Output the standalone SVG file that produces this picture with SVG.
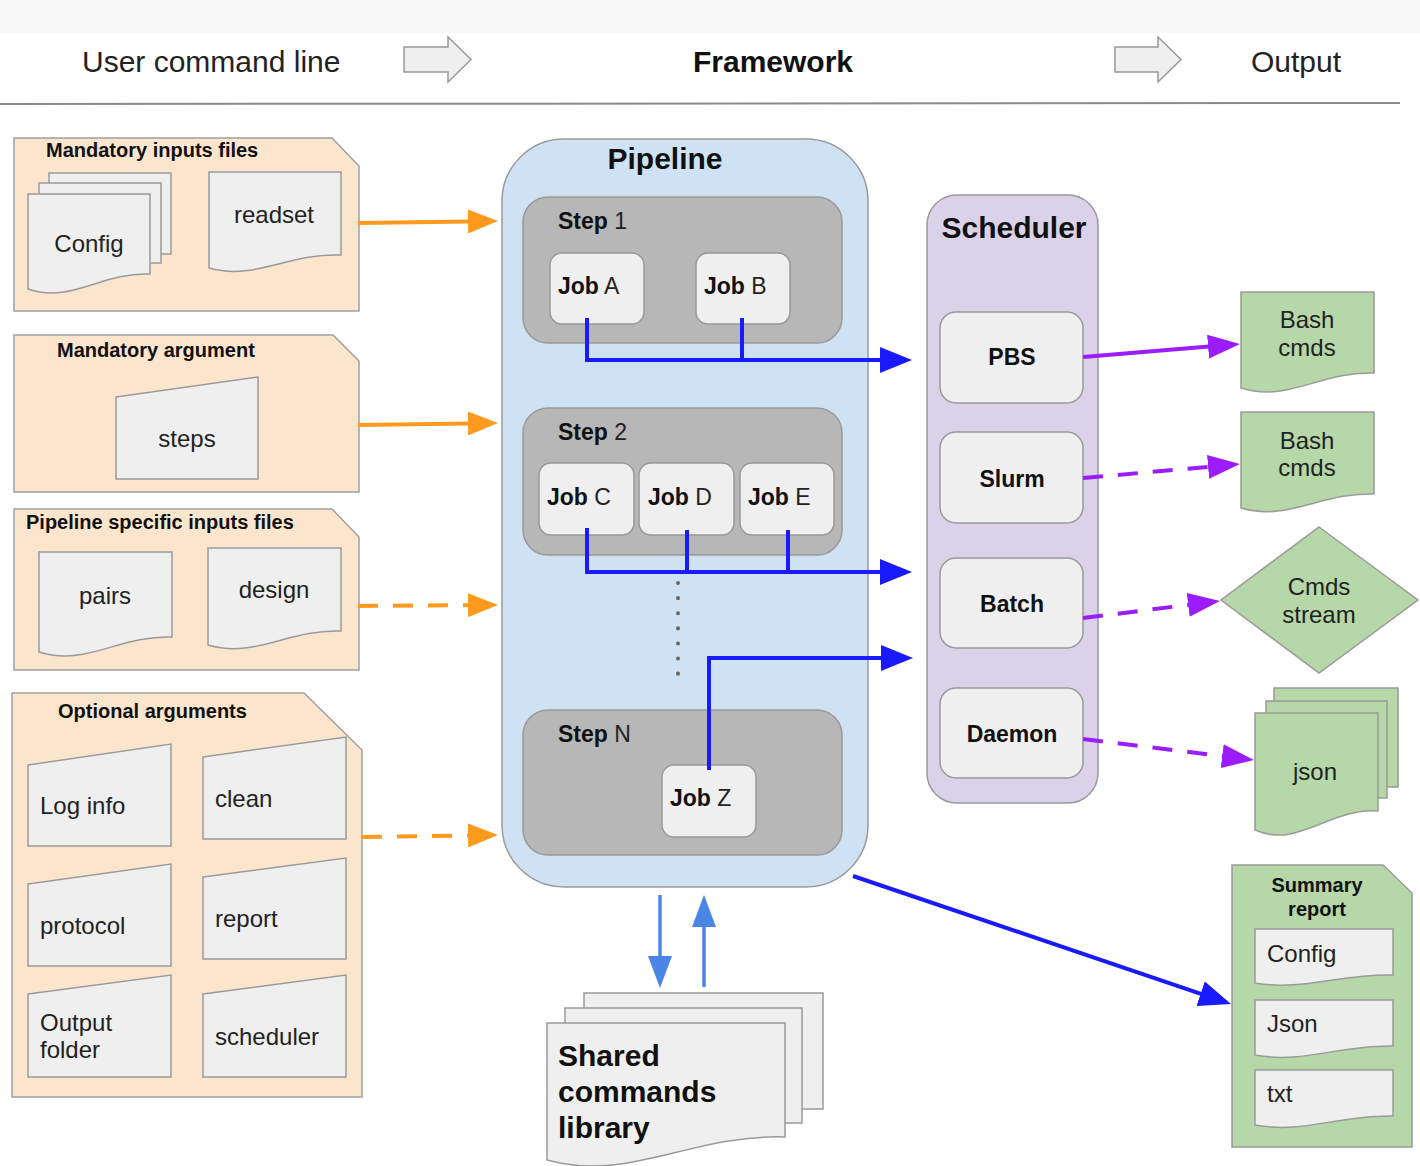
<svg xmlns="http://www.w3.org/2000/svg" width="1420" height="1166" viewBox="0 0 1420 1166">
<defs>
<style>
text{font-family:"Liberation Sans",Arial,sans-serif;fill:#222}
.b{font-weight:bold;fill:#111}
.hd{font-size:30px}
.pt{font-size:20px;font-weight:bold;fill:#111}
.dt{font-size:24px}
.jt{font-size:23px}
.peach{fill:#fce5cd;stroke:#a0a0a0;stroke-width:1.5}
.doc{fill:#efefef;stroke:#9a9a9a;stroke-width:1.5}
.green{fill:#b6d7a8;stroke:#9a9a9a;stroke-width:1.5}
.step{fill:#b7b7b7;stroke:#999;stroke-width:1.5}
.job{fill:#efefef;stroke:#999;stroke-width:1.5}
.blue{fill:none;stroke:#1a1aff;stroke-width:4}
.orange{fill:none;stroke:#ff9a1f;stroke-width:4}
.purple{fill:none;stroke:#9b1cff;stroke-width:4}
.lblue{fill:none;stroke:#4a86e8;stroke-width:3.5}
.dash{stroke-dasharray:20 15}
</style>
<marker id="mb" markerUnits="userSpaceOnUse" markerWidth="32" markerHeight="26" viewBox="0 0 32 26" refX="22" refY="13" orient="auto"><path d="M0,0 L32,13 L0,26 z" fill="#1a1aff"/></marker>
<marker id="mo" markerUnits="userSpaceOnUse" markerWidth="30" markerHeight="24" viewBox="0 0 30 24" refX="20" refY="12" orient="auto"><path d="M0,0 L30,12 L0,24 z" fill="#ff9a1f"/></marker>
<marker id="mp" markerUnits="userSpaceOnUse" markerWidth="32" markerHeight="24" viewBox="0 0 32 24" refX="22" refY="12" orient="auto"><path d="M0,0 L32,12 L0,24 z" fill="#9b1cff"/></marker>
<marker id="ml" markerUnits="userSpaceOnUse" markerWidth="32" markerHeight="24" viewBox="0 0 32 24" refX="22" refY="12" orient="auto"><path d="M0,0 L32,12 L0,24 z" fill="#4a86e8"/></marker>
</defs>

<rect x="0" y="0" width="1420" height="1166" fill="#ffffff"/>
<rect x="0" y="0" width="1420" height="33" fill="#f8f8f8"/>

<g id="header">
<text x="82" y="72" class="hd">User command line</text>
<path d="M404,47 H448 V37 L471,59.5 L448,82 V72 H404 Z" fill="#efefef" stroke="#999" stroke-width="1.5"/>
<text x="773" y="72" class="hd b" text-anchor="middle">Framework</text>
<path d="M1115,47 H1158 V37 L1181,59.5 L1158,82 V72 H1115 Z" fill="#efefef" stroke="#999" stroke-width="1.5"/>
<text x="1251" y="72" class="hd">Output</text>
<line x1="0" y1="104" x2="1400" y2="103" stroke="#8a8a8a" stroke-width="2"/>
</g>

<g id="mandatory-inputs">
<path class="peach" d="M14,138 H332 L359,166 V311 H14 Z"/>
<text x="46" y="157" class="pt">Mandatory inputs files</text>
<rect class="doc" x="49" y="173" width="122" height="81"/>
<rect class="doc" x="39" y="183" width="122" height="80"/>
<path class="doc" d="M28,194 H150 V274 C101,272 71,304 28,289 Z"/>
<text x="89" y="252" class="dt" text-anchor="middle">Config</text>
<path class="doc" d="M209,172 H341 V255 C288,253 255,281 209,268 Z"/>
<text x="274" y="223" class="dt" text-anchor="middle">readset</text>
</g>

<g id="mandatory-argument">
<path class="peach" d="M14,335 H333 L359,361 V492 H14 Z"/>
<text x="57" y="357" class="pt">Mandatory argument</text>
<path class="doc" d="M116,397 L258,377 V479 H116 Z"/>
<text x="187" y="447" class="dt" text-anchor="middle">steps</text>
</g>

<g id="pipeline-inputs">
<path class="peach" d="M14,509 H332 L359,537 V670 H14 Z"/>
<text x="26" y="529" class="pt">Pipeline specific inputs files</text>
<path class="doc" d="M39,552 H172 V637 C119,635 86,667 39,652 Z"/>
<text x="105" y="604" class="dt" text-anchor="middle">pairs</text>
<path class="doc" d="M208,548 H341 V631 C288,629 255,659 208,645 Z"/>
<text x="274" y="598" class="dt" text-anchor="middle">design</text>
</g>

<g id="optional-arguments">
<path class="peach" d="M12,693 H304 L362,750 V1097 H12 Z"/>
<text x="58" y="718" class="pt">Optional arguments</text>
<path class="doc" d="M28,765 L171,744 V846 H28 Z"/>
<text x="40" y="814" class="dt">Log info</text>
<path class="doc" d="M203,757 L346,737 V839 H203 Z"/>
<text x="215" y="807" class="dt">clean</text>
<path class="doc" d="M28,884 L171,864 V966 H28 Z"/>
<text x="40" y="934" class="dt">protocol</text>
<path class="doc" d="M203,877 L346,858 V959 H203 Z"/>
<text x="215" y="927" class="dt">report</text>
<path class="doc" d="M28,994 L171,975 V1077 H28 Z"/>
<text x="40" y="1031" class="dt">Output</text>
<text x="40" y="1058" class="dt">folder</text>
<path class="doc" d="M203,994 L346,975 V1077 H203 Z"/>
<text x="215" y="1045" class="dt">scheduler</text>
</g>

<g id="pipeline">
<rect x="502" y="139" width="366" height="748" rx="62" fill="#cfe2f3" stroke="#999" stroke-width="1.5"/>
<text x="665" y="169" class="hd b" text-anchor="middle">Pipeline</text>
<g id="step1">
<rect class="step" x="523" y="197" width="319" height="146" rx="25"/>
<text x="558" y="229" class="jt"><tspan class="b">Step</tspan> 1</text>
</g>
<g id="jobA"><rect class="job" x="550" y="253" width="94" height="71" rx="12"/><text x="558" y="294" class="jt"><tspan class="b">Job</tspan> A</text></g>
<g id="jobB"><rect class="job" x="696" y="253" width="94" height="71" rx="12"/><text x="704" y="294" class="jt"><tspan class="b">Job</tspan> B</text></g>
<g id="step2">
<rect class="step" x="523" y="408" width="319" height="147" rx="25"/>
<text x="558" y="440" class="jt"><tspan class="b">Step</tspan> 2</text>
</g>
<g id="jobC"><rect class="job" x="539" y="463" width="95" height="72" rx="12"/><text x="547" y="505" class="jt"><tspan class="b">Job</tspan> C</text></g>
<g id="jobD"><rect class="job" x="639" y="463" width="95" height="72" rx="12"/><text x="648" y="505" class="jt"><tspan class="b">Job</tspan> D</text></g>
<g id="jobE"><rect class="job" x="740" y="463" width="94" height="72" rx="12"/><text x="748" y="505" class="jt"><tspan class="b">Job</tspan> E</text></g>
<line x1="678" y1="583" x2="678" y2="674" stroke="#666" stroke-width="4" stroke-linecap="round" stroke-dasharray="0.1 15"/>
<g id="stepN">
<rect class="step" x="523" y="710" width="319" height="145" rx="25"/>
<text x="558" y="742" class="jt"><tspan class="b">Step</tspan> N</text>
</g>
<g id="jobZ"><rect class="job" x="662" y="765" width="94" height="72" rx="12"/><text x="670" y="806" class="jt"><tspan class="b">Job</tspan> Z</text></g>
</g>

<g id="scheduler">
<rect x="927" y="195" width="171" height="608" rx="30" fill="#d9d2e9" stroke="#999" stroke-width="1.5"/>
<text x="1014" y="238" class="hd b" text-anchor="middle">Scheduler</text>
</g>
<g id="pbs"><rect class="job" x="940" y="312" width="143" height="91" rx="16"/><text x="1012" y="365" class="jt b" text-anchor="middle">PBS</text></g>
<g id="slurm"><rect class="job" x="940" y="432" width="143" height="91" rx="16"/><text x="1012" y="487" class="jt b" text-anchor="middle">Slurm</text></g>
<g id="batch"><rect class="job" x="940" y="558" width="143" height="90" rx="16"/><text x="1012" y="612" class="jt b" text-anchor="middle">Batch</text></g>
<g id="daemon"><rect class="job" x="940" y="688" width="143" height="90" rx="16"/><text x="1012" y="742" class="jt b" text-anchor="middle">Daemon</text></g>

<g id="bash1">
<path class="green" d="M1241,292 H1374 V373 C1321,371 1288,403 1241,388 Z"/>
<text x="1307" y="328" class="dt" text-anchor="middle">Bash</text>
<text x="1307" y="356" class="dt" text-anchor="middle">cmds</text>
</g>
<g id="bash2">
<path class="green" d="M1241,412 H1374 V494 C1321,492 1288,522 1241,508 Z"/>
<text x="1307" y="449" class="dt" text-anchor="middle">Bash</text>
<text x="1307" y="476" class="dt" text-anchor="middle">cmds</text>
</g>
<g id="cmds-stream">
<path class="green" d="M1319,527 L1418,600 L1319,673 L1221,600 Z"/>
<text x="1319" y="595" class="dt" text-anchor="middle">Cmds</text>
<text x="1319" y="623" class="dt" text-anchor="middle">stream</text>
</g>
<g id="json">
<rect class="green" x="1274" y="688" width="124" height="99"/>
<rect class="green" x="1266" y="701" width="121" height="97"/>
<path class="green" d="M1255,713 H1378 V811 C1329,808 1298,849 1255,830 Z"/>
<text x="1315" y="780" class="dt" text-anchor="middle">json</text>
</g>
<g id="summary-report">
<path class="green" d="M1232,865 H1383 L1412,893 V1147 H1232 Z"/>
<text x="1317" y="892" class="pt" text-anchor="middle">Summary</text>
<text x="1317" y="916" class="pt" text-anchor="middle">report</text>
<path class="doc" d="M1255,929 H1393 V975 C1338,974 1303,991 1255,983 Z"/>
<text x="1267" y="962" class="dt">Config</text>
<path class="doc" d="M1255,1000 H1393 V1046 C1338,1045 1303,1064 1255,1055 Z"/>
<text x="1267" y="1032" class="dt">Json</text>
<path class="doc" d="M1255,1070 H1393 V1116 C1338,1115 1303,1134 1255,1125 Z"/>
<text x="1267" y="1102" class="dt">txt</text>
</g>

<g id="shared-library">
<rect class="doc" x="584" y="993" width="239" height="116"/>
<rect class="doc" x="565" y="1008" width="237" height="115"/>
<path class="doc" d="M547,1023 H785 V1137 C690,1134 630,1183 547,1160 Z"/>
<text x="558" y="1066" class="hd b">Shared</text>
<text x="558" y="1102" class="hd b">commands</text>
<text x="558" y="1138" class="hd b">library</text>
</g>

<g id="connectors">
<path class="orange" d="M358,223 L488,221.2" marker-end="url(#mo)"/>
<path class="orange" d="M358,425 L488,423.2" marker-end="url(#mo)"/>
<path class="orange dash" d="M358,606 L488,605" marker-end="url(#mo)"/>
<path class="orange dash" d="M362,837 L488,835.2" marker-end="url(#mo)"/>

<path class="blue" d="M587,318 V360 H902" marker-end="url(#mb)"/>
<path class="blue" d="M742,318 V360"/>
<path class="blue" d="M587,528 V572 H902" marker-end="url(#mb)"/>
<path class="blue" d="M687,530 V572"/>
<path class="blue" d="M788,530 V572"/>
<path class="blue" d="M709,770 V658 H903" marker-end="url(#mb)"/>
<path class="blue" d="M853,876 L1221.5,1000.8" marker-end="url(#mb)"/>

<path class="purple" d="M1083,357 L1230,344.8" marker-end="url(#mp)"/>
<path class="purple dash" d="M1083,478 L1230,464.9" marker-end="url(#mp)"/>
<path class="purple dash" d="M1083,618 L1210,602.2" marker-end="url(#mp)"/>
<path class="purple dash" d="M1083,739 L1244,758.8" marker-end="url(#mp)"/>

<path class="lblue" d="M660,895 V978" marker-end="url(#ml)"/>
<path class="lblue" d="M704,987 V905" marker-end="url(#ml)"/>
</g>
</svg>
